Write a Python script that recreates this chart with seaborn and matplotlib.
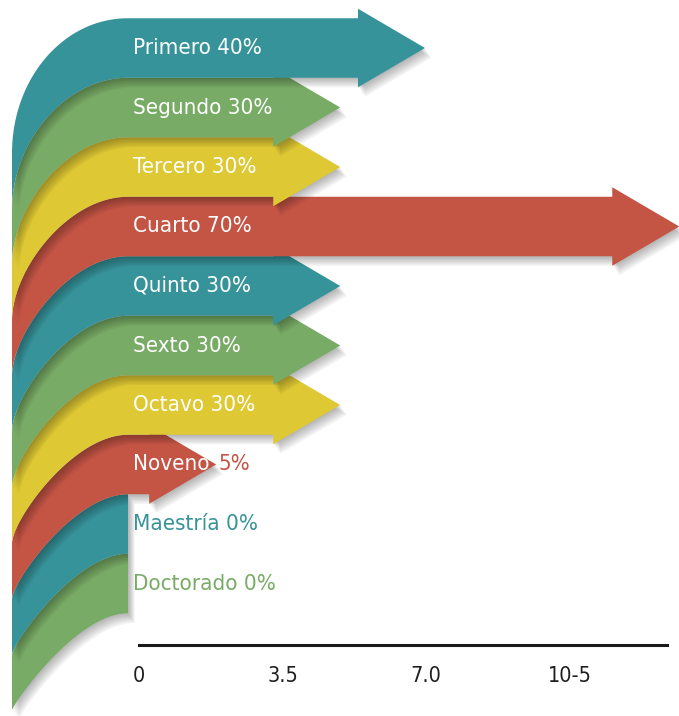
import numpy as np
import matplotlib
matplotlib.use("Agg")
import matplotlib.pyplot as plt
import matplotlib.patheffects as pe
from matplotlib import font_manager as fm
from matplotlib.patches import Polygon
import seaborn as sns

# data
categories = ["Primero", "Segundo", "Tercero", "Cuarto", "Quinto",
              "Sexto", "Octavo", "Noveno", "Maestría", "Doctorado"]
values = [40, 30, 30, 70, 30, 30, 30, 5, 0, 0]
colors = ["#37939A", "#78AB65", "#DEC834", "#C45545", "#37939A",
          "#78AB65", "#DEC834", "#C45545", "#37939A", "#78AB65"]
tick_values = [0, 3.5, 7.0, 10.5]
tick_labels = ["0", "3.5", "7.0", "10-5"]

sns.set_theme(style="white")
plt.rcParams["font.family"] = ["DejaVu Sans"]

# look for a narrow face, the original uses a condensed sans
def find_narrow():
    wanted = ["Liberation Sans Narrow", "DejaVu Sans", "Roboto", "Open Sans", "Noto Sans"]
    found = {}
    for f in fm.fontManager.ttflist:
        name_l = (f.name + " " + f.fname).lower()
        narrow = ("narrow" in name_l or "condensed" in name_l
                  or str(f.stretch) in ("condensed", "semi-condensed", "extra-condensed"))
        if not narrow or f.style != "normal":
            continue
        if "bold" in f.fname.lower() or "light" in f.fname.lower() or "medium" in f.fname.lower():
            continue
        if "semi" in f.fname.lower() or "extra" in f.fname.lower():
            continue
        found.setdefault(f.name, f.fname)
    for w in wanted:
        if w in found:
            return found[w]
    return next(iter(found.values()), None)


narrow_file = find_narrow()
if narrow_file:
    lab_size, tick_size = 16, 15.5
    font_kw = lambda s: {"fontproperties": fm.FontProperties(fname=narrow_file, size=s)}
else:
    lab_size, tick_size = 15, 15
    font_kw = lambda s: {"fontfamily": "Lato", "fontsize": s}

W, H = 679, 716
fig = plt.figure(figsize=(W / 100, H / 100), dpi=100)
ax = fig.add_axes([0, 0, 1, 1])

# x in percent, y in rows (row 0 on top)
px_per_pct = 8.475
x_origin_px = 19
row_px = 59.5
row0_px = 48
ax.set_xlim(-x_origin_px / px_per_pct, (W - x_origin_px) / px_per_pct)
ax.set_ylim((H - row0_px) / row_px, -row0_px / row_px)
ax.axis("off")

x_join = (128 - x_origin_px) / px_per_pct     # where the curl meets the straight bar
x_left = (12 - x_origin_px) / px_per_pct      # left edge of the curls
head_len = 67 / px_per_pct
head_half = 0.66

n = len(categories)
drops = np.linspace(135, 97, n + 1) / row_px
hand_a = np.linspace(0.56, 0.45, n + 1)
hand_b = np.linspace(0.55, 0.05, n + 1)


def curl(k, steps=60):
    # bezier from the bar edge (x_join) down to the left edge
    y0 = k - 0.5
    y1 = y0 + drops[k]
    p0 = np.array([x_join, y0])
    p1 = np.array([x_join - hand_a[k] * (x_join - x_left), y0])
    p2 = np.array([x_left, y1 - hand_b[k] * drops[k]])
    p3 = np.array([x_left, y1])
    t = np.linspace(0, 1, steps)[:, None]
    return ((1 - t) ** 3 * p0 + 3 * (1 - t) ** 2 * t * p1
            + 3 * (1 - t) * t ** 2 * p2 + t ** 3 * p3)


# soft drop shadow from a few stacked offsets
shadow = [pe.SimplePatchShadow(offset=(0.7 * k, -1.0 * k), shadow_rgbFace="black", alpha=0.045)
          for k in range(1, 8)] + [pe.Normal()]

label_x = x_join + 0.6
for i, (cat, val, col) in enumerate(zip(categories, values, colors)):
    y_top, y_bot = i - 0.5, i + 0.5
    pts = list(curl(i)[::-1])
    tip = None
    if val > 0:
        body_end = max(val, x_join + 2.5)
        tip = body_end + head_len
        pts += [(body_end, y_top), (body_end, i - head_half), (tip, i),
                (body_end, i + head_half), (body_end, y_bot)]
    pts += list(curl(i + 1))
    poly = Polygon(pts, closed=True, facecolor=col, edgecolor="none",
                   zorder=20 - i, path_effects=shadow)
    ax.add_patch(poly)

    if val >= 10:
        ax.text(label_x, i, f"{cat} {val}%", color="white", va="center",
                ha="left", zorder=50, **font_kw(lab_size))
    elif val > 0:
        ax.text(label_x, i, cat, color="white", va="center", ha="left",
                zorder=50, **font_kw(lab_size))
        ax.text(tip + 0.3, i, f"{val}%", color=col, va="center", ha="left",
                zorder=50, **font_kw(lab_size))
    else:
        ax.text(label_x, i, f"{cat} {val}%", color=col, va="center",
                ha="left", zorder=50, **font_kw(lab_size))

# bottom scale line
ax2 = fig.add_axes([139 / W, 1 - 645 / H, 528 / W, 0.01])
ax2.patch.set_alpha(0)
ax2.set_xlim(0, 528 / 41)
ax2.set_xticks(tick_values)
ax2.set_xticklabels(tick_labels, color="#1f1f1f", **font_kw(tick_size))
ax2.set_yticks([])
ax2.tick_params(axis="x", length=0, pad=15)
sns.despine(ax=ax2, left=True)
ax2.spines["bottom"].set_linewidth(2.2)
ax2.spines["bottom"].set_color("#1a1a1a")

fig.savefig("out.png", dpi=100)
